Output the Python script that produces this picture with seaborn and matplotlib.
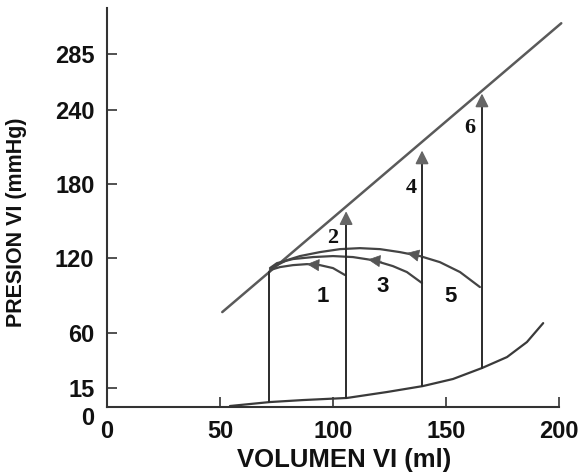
import pandas as pd
import seaborn as sns
import matplotlib.pyplot as plt

# End-systolic pressure-volume line
espvr_vol = [51.0, 201.0]
espvr_pres = [76.6, 309.7]

# End-diastolic filling curve
edpvr_vol = [54.4, 72.1, 86.7, 106.2, 123.9, 139.8, 153.1, 166.0, 177.0, 185.8, 193.0]
edpvr_pres = [0.8, 4.0, 5.6, 7.3, 12.1, 16.9, 22.6, 31.5, 40.3, 52.4, 67.7]

# Ejection curves (right to left)
eject1_vol = [105.3, 100.0, 94.2, 88.5, 82.3, 76.5, 72.1]
eject1_pres = [106.5, 112.1, 114.5, 115.3, 114.5, 112.9, 110.5]
eject3_vol = [139.4, 132.7, 126.5, 117.7, 108.8, 100.0, 91.2, 82.3, 75.2, 72.1]
eject3_pres = [100.0, 108.9, 113.7, 118.5, 121.0, 121.8, 121.0, 119.4, 116.1, 112.1]
eject5_vol = [165.0, 156.2, 147.3, 138.5, 129.6, 120.8, 111.9, 103.1, 94.2, 85.4, 79.6, 73.5, 71.7]
eject5_pres = [96.8, 108.9, 116.9, 121.8, 125.0, 127.4, 128.2, 127.4, 125.0, 121.8, 118.5, 112.9, 108.9]

# Isovolumetric contractions
iso_vol = [71.7, 105.8, 139.4, 165.9]
iso_bottom = [4.0, 7.3, 16.9, 31.5]
iso_top = [108.9, 158.0, 207.0, 253.0]
iso_arrow = [False, True, True, True]

# Arrowheads along the ejection curves (tip, tail)
head_tip_vol = [88.5, 115.5, 132.7]
head_tip_pres = [115.3, 119.0, 124.3]
head_tail_vol = [94.5, 121.5, 139.5]
head_tail_pres = [114.4, 117.6, 121.6]

# Numbered labels
num_text = ['1', '2', '3', '4', '5', '6']
num_vol = [95.6, 100.0, 122.0, 134.5, 151.8, 160.6]
num_pres = [89.0, 136.0, 97.0, 177.0, 89.5, 225.0]

x_ticks = [0, 50, 100, 150, 200]
y_ticks = [0, 15, 60, 120, 180, 240, 285]

sns.set_theme(style='white')
plt.rcParams['font.family'] = ['Liberation Sans', 'DejaVu Sans']
plt.rcParams['font.weight'] = 'bold'

fig = plt.figure(figsize=(5.88, 4.72), dpi=100)
ax = fig.add_axes([107 / 588, 1 - 407 / 472, 452 / 588, 399 / 472])

line_col = '#2b2b2b'
gray = '#5a5a5a'

curves = [
    (espvr_vol, espvr_pres, gray, 1.8),
    (edpvr_vol, edpvr_pres, '#3a3a3a', 1.6),
    (eject1_vol, eject1_pres, '#444444', 1.6),
    (eject3_vol, eject3_pres, '#444444', 1.6),
    (eject5_vol, eject5_pres, '#444444', 1.6),
]
for vol, pres, col, lw in curves:
    df = pd.DataFrame({'vol': vol, 'pres': pres})
    sns.lineplot(data=df, x='vol', y='pres', sort=False, estimator=None,
                 color=col, linewidth=lw, ax=ax, clip_on=False)

for x, y0, y1, has_arrow in zip(iso_vol, iso_bottom, iso_top, iso_arrow):
    if has_arrow:
        ax.plot([x, x], [y0, y1 - 8], color=line_col, linewidth=1.4)
        ax.annotate('', xy=(x, y1), xytext=(x, y1 - 10),
                    arrowprops=dict(arrowstyle='-|>', color='#666666',
                                    mutation_scale=20, linewidth=1.2,
                                    shrinkA=0, shrinkB=0))
    else:
        ax.plot([x, x], [y0, y1], color=line_col, linewidth=1.4)

for tx, ty, sx, sy in zip(head_tip_vol, head_tip_pres, head_tail_vol, head_tail_pres):
    ax.annotate('', xy=(tx, ty), xytext=(sx, sy),
                arrowprops=dict(arrowstyle='-|>', color='#555555',
                                mutation_scale=20, linewidth=0.5,
                                shrinkA=0, shrinkB=0))

for t, x, y in zip(num_text, num_vol, num_pres):
    fam = ['Liberation Serif'] if t in ('2', '4', '6') else ['Liberation Sans']
    ax.text(x, y, t, ha='center', va='center', fontsize=16,
            fontweight='bold', family=fam, color='#111111')

ax.set_xlim(0, 200)
ax.set_ylim(0, 322)
ax.set_xticks(x_ticks)
ax.set_yticks(y_ticks)
ax.set_xticklabels([str(v) for v in x_ticks])
ax.set_yticklabels([str(v) for v in y_ticks])

for side in ['top', 'right']:
    ax.spines[side].set_visible(False)
for side in ['left', 'bottom']:
    ax.spines[side].set_color('#333333')
    ax.spines[side].set_linewidth(1.5)

ax.tick_params(direction='in', length=7, width=1.2, color='#333333',
               labelsize=17, pad=9, labelcolor='#111111',
               bottom=True, left=True)
ax.get_yticklabels()[0].set_va('top')

ax.set_xlabel('VOLUMEN VI (ml)', fontsize=18.5, fontweight='bold', color='#111111')
ax.set_ylabel('PRESION VI (mmHg)', fontsize=15.5, fontweight='bold', color='#111111')
ax.xaxis.set_label_coords(0.524, -0.103)
ax.yaxis.set_label_coords(-0.177, 0.464)

plt.savefig('out.png', dpi=100)
plt.close()
